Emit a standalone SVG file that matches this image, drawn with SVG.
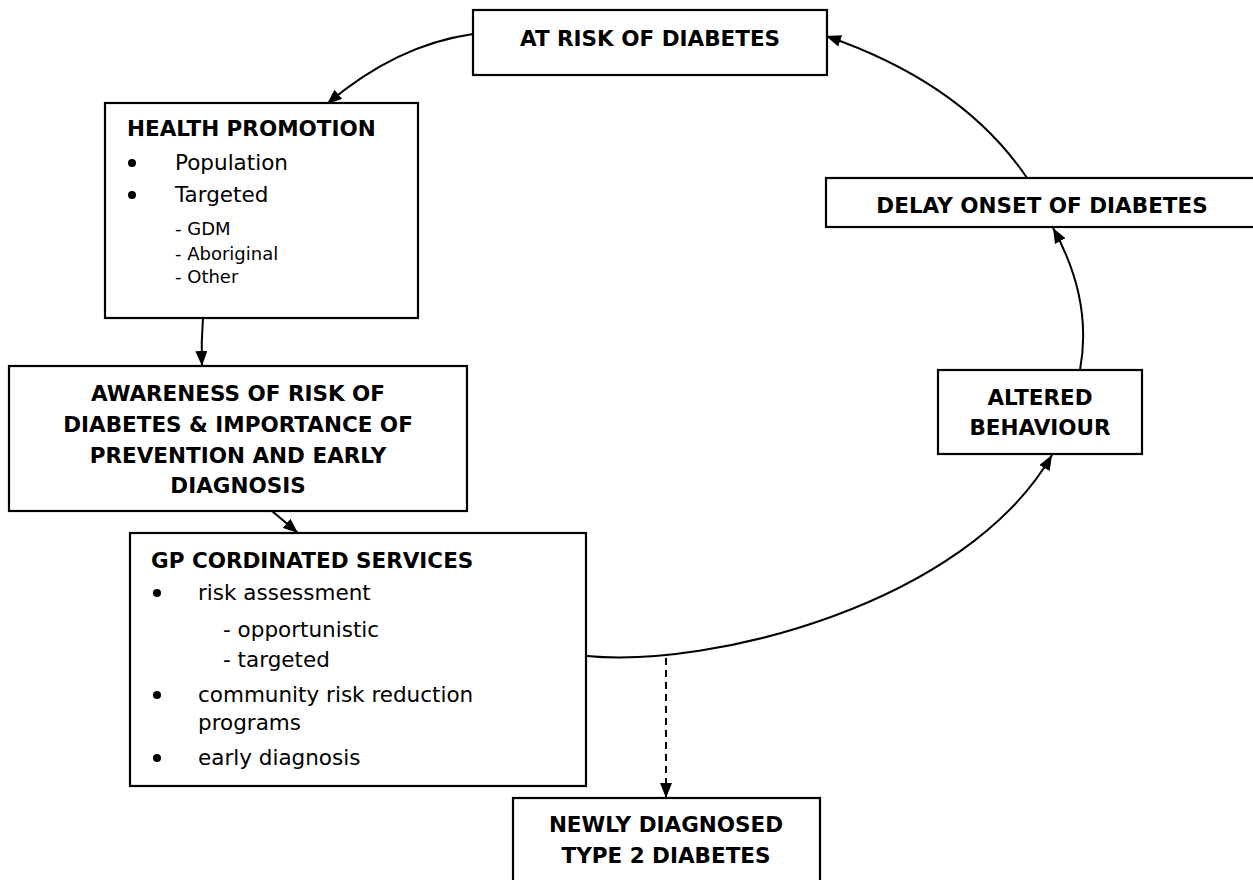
<svg xmlns="http://www.w3.org/2000/svg" width="1253" height="880" viewBox="0 0 1253 880">
<defs>
<style>
.box{fill:#fff;stroke:#000;stroke-width:2.2}
.t{font-family:"DejaVu Sans","Liberation Sans",sans-serif;fill:#000}
.b{font-weight:bold;font-size:21.5px}
.r{font-size:21.5px}
.s{font-size:18px}
.c{text-anchor:middle}
.ln{fill:none;stroke:#000;stroke-width:2}
.dash{stroke-dasharray:7,5}
</style>
<marker id="ah" viewBox="0 0 15 12" refX="15" refY="6" markerWidth="15" markerHeight="12" markerUnits="userSpaceOnUse" orient="auto">
<path d="M0,0 L15,6 L0,12 z" fill="#000"/>
</marker>
</defs>
<rect width="1253" height="880" fill="#fff"/>
<g id="connectors">
<path class="ln" d="M473,34 Q396,45 327,104" marker-end="url(#ah)"/>
<path class="ln" d="M203,318 Q201,342 202,366" marker-end="url(#ah)"/>
<path class="ln" d="M272,511 L298,533" marker-end="url(#ah)"/>
<path class="ln" d="M587,656 C710,668 965,605 1052,455" marker-end="url(#ah)"/>
<path class="ln" d="M1080,370 Q1093,300 1053,228" marker-end="url(#ah)"/>
<path class="ln" d="M1027,178 Q963,83 826,36" marker-end="url(#ah)"/>
<path class="ln dash" d="M666,658 L666,798" marker-end="url(#ah)"/>
</g>
<g id="at-risk">
<rect class="box" x="473" y="10" width="354" height="65"/>
<text class="t b c" x="650" y="46">AT RISK OF DIABETES</text>
</g>
<g id="health-promotion">
<rect class="box" x="105" y="103" width="313" height="215"/>
<text class="t b" x="127" y="136">HEALTH PROMOTION</text>
<circle cx="132" cy="163" r="4"/>
<text class="t r" x="175" y="170">Population</text>
<circle cx="132" cy="195" r="4"/>
<text class="t r" x="175" y="202">Targeted</text>
<text class="t s" x="175" y="235">- GDM</text>
<text class="t s" x="175" y="260">- Aboriginal</text>
<text class="t s" x="175" y="283">- Other</text>
</g>
<g id="awareness">
<rect class="box" x="9" y="366" width="458" height="145"/>
<text class="t b c" x="238" y="401">AWARENESS OF RISK OF</text>
<text class="t b c" x="238" y="432">DIABETES &amp; IMPORTANCE OF</text>
<text class="t b c" x="238" y="463">PREVENTION AND EARLY</text>
<text class="t b c" x="238" y="493">DIAGNOSIS</text>
</g>
<g id="gp-services">
<rect class="box" x="130" y="533" width="456" height="253"/>
<text class="t b" x="151" y="568">GP CORDINATED SERVICES</text>
<circle cx="157" cy="593" r="4"/>
<text class="t r" x="198" y="600">risk assessment</text>
<text class="t r" x="223" y="637">- opportunistic</text>
<text class="t r" x="223" y="667">- targeted</text>
<circle cx="157" cy="695" r="4"/>
<text class="t r" x="198" y="702">community risk reduction</text>
<text class="t r" x="198" y="730">programs</text>
<circle cx="157" cy="758" r="4"/>
<text class="t r" x="198" y="765">early diagnosis</text>
</g>
<g id="newly-diagnosed">
<rect class="box" x="513" y="798" width="307" height="90"/>
<text class="t b c" x="666" y="832">NEWLY DIAGNOSED</text>
<text class="t b c" x="666" y="863">TYPE 2 DIABETES</text>
</g>
<g id="delay-onset">
<rect class="box" x="826" y="178" width="430" height="49"/>
<text class="t b c" x="1042" y="213">DELAY ONSET OF DIABETES</text>
</g>
<g id="altered-behaviour">
<rect class="box" x="938" y="370" width="204" height="84"/>
<text class="t b c" x="1040" y="405">ALTERED</text>
<text class="t b c" x="1040" y="435">BEHAVIOUR</text>
</g>
</svg>
